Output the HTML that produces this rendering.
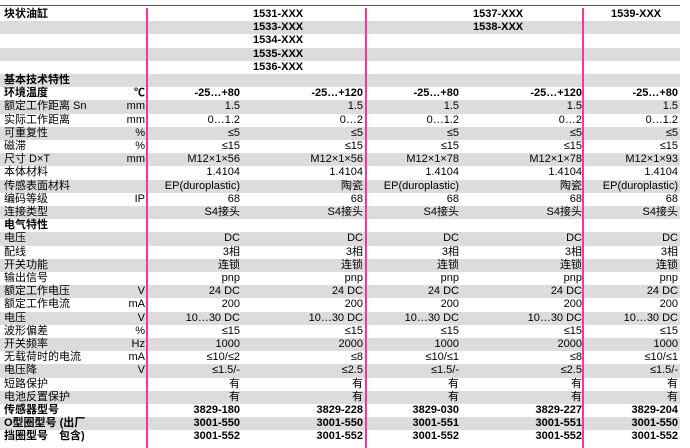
<!DOCTYPE html>
<html><head><meta charset="utf-8"><style>
body{margin:0;width:690px;height:448px;background:#fff;position:relative;overflow:hidden;font-family:"Liberation Sans","Noto Sans CJK SC",sans-serif;font-size:11px;color:#000}
.top{position:absolute;left:0;top:5px;width:680px;height:1px;background:#555}
.r{position:absolute;left:0;width:680px;height:13.2px;line-height:13.2px;white-space:nowrap}
.g{background:#dcdcdc}
.r span{position:absolute;top:0}
.l{left:4px}
.u{right:535px}
.c1{right:440px}.c2{right:317px}.c3{right:221px}.c4{right:98px}.c5{right:2px}
.b{font-weight:bold}
.pk{position:absolute;top:8px;height:440px;width:2px;background:#ff3399}
.h{position:absolute;font-weight:bold}
</style></head><body>
<div class="top"></div>
<div id="rows"></div>
<div class="pk" style="left:146px"></div>
<div class="pk" style="left:365px"></div>
<div class="pk" style="left:582px"></div>
<script>
var rows=[
["块状油缸","",null,1],
["","",null],["","",null],["","",null],["","",null],
["基本技术特性","",null,1],
["环境温度","℃",["-25…+80","-25…+120","-25…+80","-25…+120","-25…+80"],1],
["额定工作距离 Sn","mm",["1.5","1.5","1.5","1.5","1.5"]],
["实际工作距离","mm",["0…1.2","0…2","0…1.2","0…2","0…1.2"]],
["可重复性","%",["≤5","≤5","≤5","≤5","≤5"]],
["磁滞","%",["≤15","≤15","≤15","≤15","≤15"]],
["尺寸 D×T","mm",["M12×1×56","M12×1×56","M12×1×78","M12×1×78","M12×1×93"]],
["本体材料","",["1.4104","1.4104","1.4104","1.4104","1.4104"]],
["传感表面材料","",["EP(duroplastic)","陶瓷","EP(duroplastic)","陶瓷","EP(duroplastic)"]],
["编码等级","IP",["68","68","68","68","68"]],
["连接类型","",["S4接头","S4接头","S4接头","S4接头","S4接头"]],
["电气特性","",null,1],
["电压","",["DC","DC","DC","DC","DC"]],
["配线","",["3相","3相","3相","3相","3相"]],
["开关功能","",["连锁","连锁","连锁","连锁","连锁"]],
["输出信号","",["pnp","pnp","pnp","pnp","pnp"]],
["额定工作电压","V",["24 DC","24 DC","24 DC","24 DC","24 DC"]],
["额定工作电流","mA",["200","200","200","200","200"]],
["电压","V",["10…30 DC","10…30 DC","10…30 DC","10…30 DC","10…30 DC"]],
["波形偏差","%",["≤15","≤15","≤15","≤15","≤15"]],
["开关频率","Hz",["1000","2000","1000","2000","1000"]],
["无载荷时的电流","mA",["≤10/≤2","≤8","≤10/≤1","≤8","≤10/≤1"]],
["电压降","V",["≤1.5/-","≤2.5","≤1.5/-","≤2.5","≤1.5/-"]],
["短路保护","",["有","有","有","有","有"]],
["电池反置保护","",["有","有","有","有","有"]],
["传感器型号","",["3829-180","3829-228","3829-030","3829-227","3829-204"],1],
["O型圈型号 (出厂","",["3001-550","3001-550","3001-551","3001-551","3001-550"],1],
["挡圈型号　包含)","",["3001-552","3001-552","3001-552","3001-552","3001-552"],1]
];
var h="";
rows.forEach(function(r,i){
 var top=8+i*13.2;
 h+='<div class="r'+(i%2?' g':'')+'" style="top:'+top+'px">';
 h+='<span class="l'+(r[3]?' b':'')+'">'+r[0]+'</span>';
 if(r[1])h+='<span class="u'+(i==6?' b':'')+'">'+r[1]+'</span>';
 if(r[2])r[2].forEach(function(v,k){h+='<span class="c'+(k+1)+(r[3]?' b':'')+'">'+v+'</span>';});
 h+='</div>';
});
var hd=[["1531-XXX",0,253],["1533-XXX",1,253],["1534-XXX",2,253],["1535-XXX",3,253],["1536-XXX",4,253],["1537-XXX",0,473],["1538-XXX",1,473],["1539-XXX",0,611]];
hd.forEach(function(x){h+='<div class="h" style="left:'+x[2]+'px;top:'+(8+x[1]*13.2)+'px;line-height:13.2px">'+x[0]+'</div>';});
document.getElementById("rows").innerHTML=h;
</script>
</body></html>
